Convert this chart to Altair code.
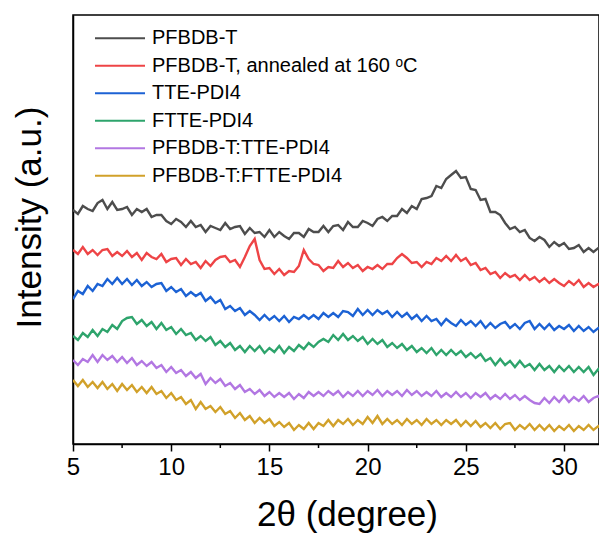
import altair as alt
import pandas as pd

# ---- data (2θ grid: 5.00 .. 32.00, step 0.25) ----
two_theta_start = 5.0
two_theta_step = 0.25

names = [
    "PFBDB-T",
    "PFBDB-T, annealed at 160 \u1d52C",
    "TTE-PDI4",
    "FTTE-PDI4",
    "PFBDB-T:TTE-PDI4",
    "PFBDB-T:FTTE-PDI4",
]
colors = ["#4d4d4d", "#ee4446", "#1c62d4", "#2ea46c", "#b277e2", "#d1a12a"]

pfbdb_t = [
    234, 230, 238, 235, 233, 241, 244, 235, 242, 234, 235, 237, 229, 235, 232, 235,
    227, 229, 229, 223, 220, 225, 222, 217, 223, 217, 219, 212, 218, 216, 214, 221,
    215, 217, 218, 210, 216, 211, 212, 207, 214, 207, 212, 208, 205, 211, 211, 207,
    215, 212, 212, 218, 212, 218, 219, 214, 222, 217, 217, 223, 221, 218, 225, 227,
    223, 228, 228, 235, 231, 238, 235, 245, 246, 248, 258, 256, 265, 269, 273, 266,
    267, 255, 254, 244, 245, 232, 232, 229, 221, 215, 217, 212, 214, 206, 203, 207,
    204, 197, 202, 198, 201, 195, 196, 199, 192, 196, 192, 196, 192,
]
pfbdb_t_annealed = [
    194, 190, 197, 190, 194, 189, 194, 195, 188, 192, 188, 193, 187, 191, 184, 191,
    187, 185, 190, 182, 185, 186, 179, 185, 180, 182, 176, 183, 178, 184, 187, 188,
    182, 184, 177, 187, 198, 205, 184, 175, 176, 170, 175, 169, 173, 172, 178, 194,
    185, 180, 179, 173, 177, 176, 183, 177, 181, 176, 179, 173, 177, 175, 179, 175,
    180, 180, 186, 190, 186, 181, 182, 177, 182, 180, 186, 183, 188, 183, 189, 183,
    186, 179, 181, 174, 176, 170, 172, 166, 171, 167, 169, 164, 169, 164, 167, 162,
    166, 161, 165, 161, 158, 163, 159, 164, 157, 161, 157, 160, 155,
]
tte_pdi4 = [
    145, 153, 150, 158, 153, 160, 158, 165, 160, 166, 160, 165, 159, 164, 158, 162,
    157, 160, 161, 153, 157, 152, 155, 148, 152, 148, 151, 143, 147, 141, 144, 135,
    138, 133, 136, 129, 133, 129, 124, 129, 124, 128, 123, 128, 122, 127, 125, 129,
    125, 129, 125, 131, 127, 131, 127, 133, 132, 128, 135, 129, 134, 129, 134, 130,
    133, 127, 132, 127, 131, 125, 129, 123, 128, 123, 125, 119, 125, 121, 118, 124,
    119, 123, 118, 123, 116, 121, 116, 120, 122, 116, 120, 115, 121, 123, 115, 120,
    115, 120, 114, 118, 115, 119, 113, 118, 113, 117, 112, 116, 113,
]
ftte_pdi4 = [
    108, 104, 111, 107, 114, 108, 115, 112, 119, 115, 123, 126, 127, 120, 124, 118,
    122, 115, 121, 114, 117, 110, 115, 109, 111, 104, 108, 103, 107, 99, 103, 97,
    101, 94, 98, 92, 98, 93, 98, 91, 96, 92, 98, 91, 97, 93, 99, 95,
    101, 97, 102, 105, 102, 109, 104, 110, 104, 108, 103, 107, 100, 105, 100, 104,
    97, 101, 96, 100, 94, 98, 92, 96, 91, 96, 89, 94, 89, 94, 89, 93,
    87, 91, 86, 90, 83, 86, 79, 85, 79, 83, 77, 83, 77, 80, 74, 80,
    74, 78, 72, 78, 73, 78, 72, 77, 72, 77, 69, 75, 71,
]
blend_tte = [
    84, 79, 85, 82, 89, 82, 89, 84, 88, 82, 87, 81, 86, 79, 83, 78,
    82, 76, 79, 72, 77, 71, 74, 68, 72, 66, 70, 60, 66, 61, 65, 58,
    61, 55, 59, 52, 55, 50, 54, 48, 52, 47, 51, 47, 51, 45, 50, 46,
    52, 48, 52, 48, 53, 49, 53, 47, 52, 48, 53, 48, 53, 49, 54, 48,
    53, 49, 53, 48, 54, 49, 53, 48, 52, 48, 53, 47, 51, 47, 52, 47,
    51, 46, 51, 47, 51, 45, 49, 45, 50, 45, 49, 44, 48, 44, 41, 40,
    46, 41, 47, 42, 48, 42, 47, 43, 48, 42, 46, 48, 42,
]
blend_ftte = [
    64, 58, 64, 57, 62, 56, 62, 55, 60, 53, 60, 54, 59, 52, 57, 51,
    57, 50, 53, 46, 51, 44, 47, 40, 44, 35, 42, 35, 38, 32, 37, 30,
    33, 26, 31, 24, 28, 21, 26, 21, 25, 18, 22, 17, 21, 14, 19, 15,
    21, 15, 21, 18, 24, 18, 24, 20, 25, 19, 24, 20, 27, 21, 28, 20,
    25, 20, 24, 19, 25, 20, 24, 19, 25, 20, 24, 19, 24, 20, 24, 18,
    23, 18, 23, 17, 21, 16, 21, 15, 20, 21, 14, 19, 15, 20, 14, 19,
    14, 19, 13, 18, 14, 19, 13, 18, 14, 19, 14, 18, 13,
]

series = [pfbdb_t, pfbdb_t_annealed, tte_pdi4, ftte_pdi4, blend_tte, blend_ftte]

x_major = [5, 10, 15, 20, 25, 30]
x_minor = [7.5, 12.5, 17.5, 22.5, 27.5]

rows = []
for name, vals in zip(names, series):
    for i, v in enumerate(vals):
        rows.append({"two_theta": two_theta_start + two_theta_step * i,
                     "intensity": v, "sample": name})
df = pd.DataFrame(rows)

FONT = "Liberation Sans"
W, H = 526, 429

x_scale = alt.Scale(domain=[5, 31.78], nice=False, zero=False)
y_scale = alt.Scale(domain=[0, 429], nice=False, zero=False)

x_axis = alt.Axis(values=x_major, title="2\u03b8 (degree)", format="d",
                  grid=False, tickSize=7, tickWidth=1.5, tickColor="black",
                  domainColor="black", domainWidth=1.5,
                  labelFont=FONT, labelFontSize=24, labelColor="black",
                  labelPadding=4, labelFlush=False,
                  titleFont=FONT, titleFontSize=35, titleFontWeight="normal",
                  titleColor="black", titleX=274, titleY=70,
                  titleBaseline="middle")

lines = alt.Chart(df).mark_line(strokeWidth=2.4, clip=True).encode(
    x=alt.X("two_theta:Q", scale=x_scale, axis=x_axis),
    y=alt.Y("intensity:Q", scale=y_scale,
            axis=alt.Axis(title="Intensity (a.u.)", labels=False, ticks=False,
                          grid=False, domainColor="black", domainWidth=1.5,
                          titleFont=FONT, titleFontSize=35, titleFontWeight="normal",
                          titleColor="black", titlePadding=26, titleY=202)),
    color=alt.Color("sample:N", scale=alt.Scale(domain=names, range=colors),
                    legend=None),
)

minor = alt.Chart(pd.DataFrame({"two_theta": x_minor})).mark_rule(
    color="black", strokeWidth=1.5).encode(
    x=alt.X("two_theta:Q", scale=x_scale, axis=x_axis),
    y=alt.value(H), y2=alt.value(H + 4),
)

layers = [lines, minor]
legend_df = pd.DataFrame({"name": names, "color": colors})
for i, (name, col) in enumerate(zip(names, colors)):
    ypix = 23.3 + 27.5 * i
    layers.append(
        alt.Chart(legend_df.iloc[[i]]).mark_rule(color=col, strokeWidth=2).encode(
            x=alt.value(22), x2=alt.value(72), y=alt.value(ypix))
    )
    layers.append(
        alt.Chart(legend_df.iloc[[i]]).mark_text(
            align="left", baseline="middle", font=FONT, fontSize=20, color="black"
        ).encode(x=alt.value(79), y=alt.value(ypix), text="name:N")
    )

chart = alt.layer(*layers).properties(
    width=W, height=H,
    padding={"left": 73, "top": 15, "right": 0, "bottom": 93},
    autosize=alt.AutoSizeParams(type="none"),
    background="white",
).configure_view(stroke="black", strokeWidth=1.5)

chart.save("out.html", embed_options={"renderer": "svg", "actions": False})
